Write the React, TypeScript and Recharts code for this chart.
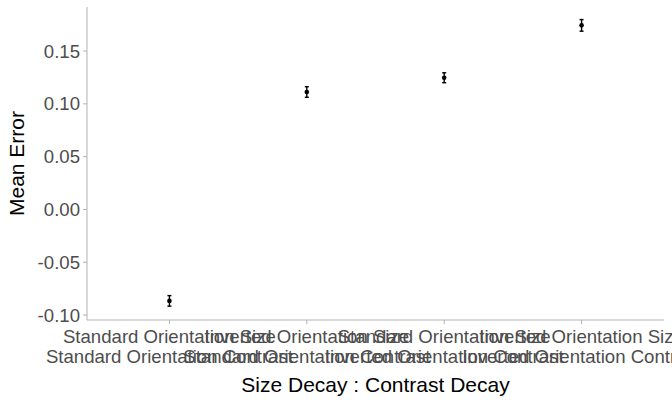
import { ScatterChart, Scatter, XAxis, YAxis, ErrorBar, Label } from "recharts";

// Size decay : contrast decay interaction levels
const sizeLevels = [
  "Standard Orientation Size",
  "Inverted Orientation Size",
  "Standard Orientation Size",
  "Inverted Orientation Size",
];
const contrastLevels = [
  "Standard Orientation Contrast",
  "Standard Orientation Contrast",
  "Inverted Orientation Contrast",
  "Inverted Orientation Contrast",
];
const meanError = [-0.0866, 0.1112, 0.1247, 0.1743];
const stdError = [0.005, 0.005, 0.0047, 0.0055];
const yTicks = [-0.1, -0.05, 0, 0.05, 0.1, 0.15];

const data = meanError.map((v, i) => ({ x: i + 1, y: v, err: stdError[i] }));

const GREY_TEXT = "#4d4d4d";
const AXIS_GREY = "#b3b3b3";
const FONT = "'Liberation Sans', Arial, sans-serif";

// two-line category tick, like ggplot's "a\nb" interaction label
const CategoryTick = (props: any) => {
  const { x, y, payload } = props;
  const i = Math.round(payload.value) - 1;
  return (
    <g>
      <text x={x} y={y + 17} textAnchor="middle" fill={GREY_TEXT} fontSize={18.6} fontFamily={FONT}>
        {sizeLevels[i]}
      </text>
      <text x={x} y={y + 37} textAnchor="middle" fill={GREY_TEXT} fontSize={18.6} fontFamily={FONT}>
        {contrastLevels[i]}
      </text>
    </g>
  );
};

const Dot = (props: any) => <circle cx={props.cx} cy={props.cy} r={2.3} fill="#000" />;

export default function App() {
  return (
    <div style={{ position: "absolute", left: 0, top: 0, width: 672, height: 403, background: "#fff" }}>
      <ScatterChart width={672} height={403} margin={{ top: 7, right: 8, left: 0, bottom: 0 }}>
        <XAxis
          type="number"
          dataKey="x"
          domain={[0.4, 4.6]}
          ticks={[1, 2, 3, 4]}
          interval={0}
          height={83}
          tickSize={4}
          tickMargin={2}
          stroke={AXIS_GREY}
          tick={<CategoryTick />}
        >
          <Label
            content={(p: any) => {
              const vb = p.viewBox;
              return (
                <text x={vb.x + vb.width / 2} y={392} textAnchor="middle" fill="#000" fontSize={21} fontFamily={FONT}>
                  Size Decay : Contrast Decay
                </text>
              );
            }}
          />
        </XAxis>
        <YAxis
          type="number"
          dataKey="y"
          domain={[-0.1047, 0.1917]}
          ticks={yTicks}
          allowDataOverflow
          width={87}
          tickSize={4}
          tickMargin={3}
          stroke={AXIS_GREY}
          tick={{ fill: GREY_TEXT, fontSize: 18.6, fontFamily: FONT }}
          tickFormatter={(v: number) => v.toFixed(2)}
        >
          <Label
            content={(p: any) => {
              const vb = p.viewBox;
              const cy = vb.y + vb.height / 2;
              return (
                <text
                  x={24}
                  y={cy}
                  transform={`rotate(-90, 24, ${cy})`}
                  textAnchor="middle"
                  fill="#000"
                  fontSize={21}
                  fontFamily={FONT}
                >
                  Mean Error
                </text>
              );
            }}
          />
        </YAxis>
        <Scatter data={data} shape={<Dot />} isAnimationActive={false}>
          <ErrorBar dataKey="err" direction="y" width={2} stroke="#000" strokeWidth={1.4} />
        </Scatter>
      </ScatterChart>
    </div>
  );
}
